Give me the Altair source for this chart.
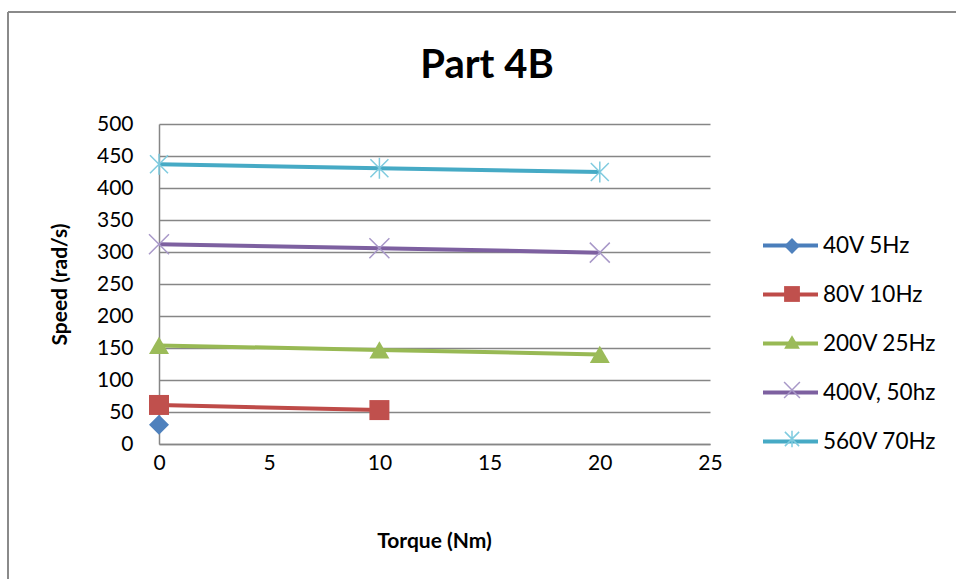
import altair as alt
import pandas as pd

# ---- data ----
series_names = ["40V 5Hz", "80V 10Hz", "200V 25Hz", "400V, 50hz", "560V 70Hz"]
torque_40v = [0]
speed_40v = [30]
torque_80v = [0, 10]
speed_80v = [61, 53]
torque_200v = [0, 10, 20]
speed_200v = [154, 147, 140]
torque_400v = [0, 10, 20]
speed_400v = [312, 306, 299]
torque_560v = [0, 10, 20]
speed_560v = [437, 431, 425]

x_ticks = [0, 5, 10, 15, 20, 25]
y_ticks = [0, 50, 100, 150, 200, 250, 300, 350, 400, 450, 500]

rows = []
for name, xs, ys in zip(
    series_names,
    [torque_40v, torque_80v, torque_200v, torque_400v, torque_560v],
    [speed_40v, speed_80v, speed_200v, speed_400v, speed_560v],
):
    for xv, yv in zip(xs, ys):
        rows.append({"series": name, "marker_series": name, "torque": xv, "speed": yv})
df = pd.DataFrame(rows)

FONT = "Lato"
line_colors = ["#4A7EBB", "#BE4B48", "#98B954", "#7D60A0", "#46AAC5"]
fill_colors = ["#4F81BD", "#C0504D", "#9BBB59", "transparent", "transparent"]
stroke_colors = ["transparent", "transparent", "transparent", "#A898C8", "#7FCBDF"]
shapes = [
    "diamond",
    "square",
    "triangle-up",
    "M-1,-1L1,1M-1,1L1,-1",
    "M-0.9,-0.9L0.9,0.9M-0.9,0.9L0.9,-0.9M0,-1.05L0,1.05",
]

W, H = 551, 320
PAD_L, PAD_T = 159, 124

x_enc = alt.X(
    "torque:Q",
    scale=alt.Scale(domain=[0, 25], nice=False),
    axis=alt.Axis(
        values=x_ticks, title="Torque (Nm)", grid=False, ticks=False, tickSize=0,
        labelPadding=8, labelFontSize=21, labelFont=FONT, labelColor="#000000",
        labelFlush=False,
        domainColor="#868686", domainWidth=1.5,
        titleFont=FONT, titleFontSize=21, titleFontWeight="bold", titleColor="#000000",
        titleX=275, titleY=97, titleBaseline="middle", titleAnchor="middle",
    ),
)
y_enc = alt.Y(
    "speed:Q",
    scale=alt.Scale(domain=[0, 500], nice=False),
    axis=alt.Axis(
        values=y_ticks, title="Speed (rad/s)", grid=True, gridColor="#868686", gridWidth=1.5,
        ticks=False, tickSize=0, labelPadding=26, labelFontSize=21, labelFont=FONT,
        labelColor="#000000", labelFlush=False, domainColor="#868686", domainWidth=1.5,
        titleFont=FONT, titleFontSize=21, titleFontWeight="bold", titleColor="#000000",
        titleX=-99, titleY=160, titleBaseline="middle", titleAnchor="middle", titleAngle=-90,
    ),
)

line_legend = alt.Legend(
    title=None, orient="none", legendX=602, legendY=92, padding=0,
    symbolType="stroke", symbolSize=3025, symbolStrokeWidth=4,
    labelFont=FONT, labelFontSize=22.5, labelColor="#000000", labelOffset=3,
    rowPadding=8,
)
marker_legend = alt.Legend(
    title=None, orient="none", legendX=622, legendY=111, padding=0,
    symbolSize=250, symbolStrokeWidth=1.5,
    labelFont=FONT, labelFontSize=22, labelExpr="''", labelOffset=0,
    rowPadding=26,
)

lines = alt.Chart(df).mark_line(strokeWidth=4).encode(
    x=x_enc,
    y=y_enc,
    color=alt.Color("series:N", sort=series_names,
                    scale=alt.Scale(domain=series_names, range=line_colors),
                    legend=line_legend),
)

points = alt.Chart(df).mark_point(filled=True, size=400, strokeWidth=1.5, opacity=1).encode(
    x=x_enc,
    y=y_enc,
    fill=alt.Fill("marker_series:N", sort=series_names,
                  scale=alt.Scale(domain=series_names, range=fill_colors),
                  legend=marker_legend),
    stroke=alt.Stroke("marker_series:N", sort=series_names,
                      scale=alt.Scale(domain=series_names, range=stroke_colors),
                      legend=marker_legend),
    shape=alt.Shape("marker_series:N", sort=series_names,
                    scale=alt.Scale(domain=series_names, range=shapes),
                    legend=marker_legend),
)

frame = alt.Data(values=[{}])
border_top = alt.Chart(frame).mark_rule(color="#8a8a8a", strokeWidth=2).encode(
    x=alt.value(-151), x2=alt.value(900), y=alt.value(-112)
)
border_left = alt.Chart(frame).mark_rule(color="#8a8a8a", strokeWidth=2).encode(
    x=alt.value(-151), y=alt.value(-112), y2=alt.value(470)
)
title_text = alt.Chart(frame).mark_text(
    text="Part 4B", font=FONT, fontSize=40, fontWeight="bold", color="#000000",
    align="center", baseline="alphabetic",
).encode(x=alt.value(328), y=alt.value(-46))

chart = alt.layer(border_top, border_left, title_text, lines, points).resolve_legend(
    color="independent", fill="independent", stroke="independent", shape="independent"
).properties(
    width=W,
    height=H,
    autosize=alt.AutoSizeParams(type="none"),
    padding={"left": PAD_L, "top": PAD_T, "right": 956 - PAD_L - W, "bottom": 579 - PAD_T - H},
    background="white",
).configure_view(stroke=None)

chart.save("out.html", embed_options={"renderer": "svg", "actions": False})
